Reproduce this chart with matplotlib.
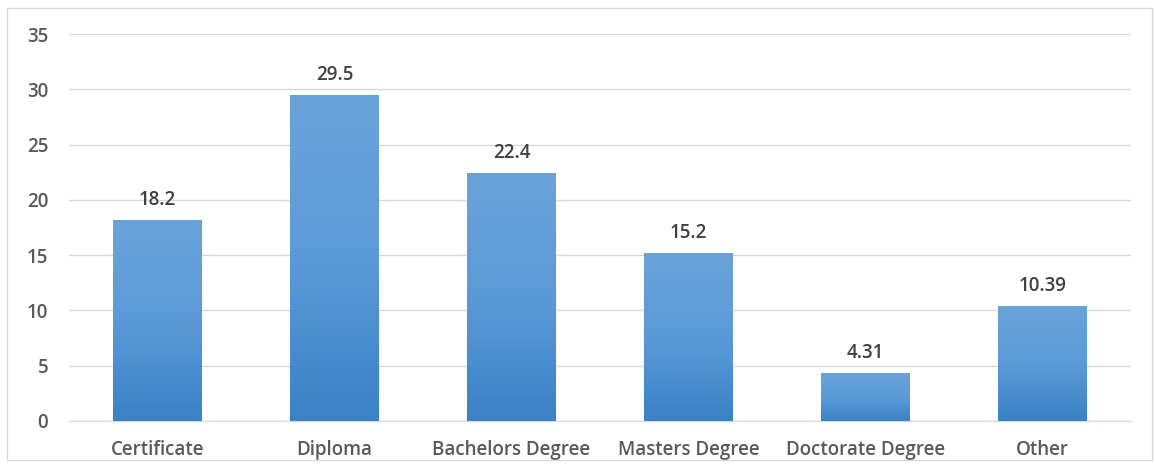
import matplotlib
matplotlib.use("Agg")
import matplotlib.pyplot as plt
import numpy as np
from matplotlib.colors import LinearSegmentedColormap
from matplotlib.patches import Rectangle

categories = ["Certificate", "Diploma", "Bachelors Degree", "Masters Degree",
              "Doctorate Degree", "Other"]
values = [18.2, 29.5, 22.4, 15.2, 4.31, 10.39]
value_labels = ["18.2", "29.5", "22.4", "15.2", "4.31", "10.39"]
yticks = [0, 5, 10, 15, 20, 25, 30, 35]

plt.rcParams["font.family"] = ["Open Sans", "DejaVu Sans"]

fig = plt.figure(figsize=(11.55, 4.67), dpi=100)
fig.patch.set_facecolor("white")
# thin frame around the whole chart
fig.patches.append(Rectangle((7 / 1155, 7 / 467), 1145 / 1155, 452 / 467,
                             transform=fig.transFigure, fill=False,
                             edgecolor="#d9d9d9", linewidth=1.0))

ax = fig.add_axes([69 / 1155, (467 - 421) / 467, 1062 / 1155, (421 - 34) / 467])

x = np.arange(len(categories))
bars = ax.bar(x, values, width=0.5, color="#4a8fd2", zorder=2, linewidth=0)

# vertical gradient fill for each bar: lighter at the top, deeper at the base
cmap = LinearSegmentedColormap.from_list("barfill", ["#3a82c6", "#5b9ad8", "#6aa3da"])
grad = np.linspace(0, 1, 256).reshape(-1, 1)
for b in bars:
    x0, w, h = b.get_x(), b.get_width(), b.get_height()
    im = ax.imshow(grad, cmap=cmap, origin="lower", aspect="auto",
                   extent=(x0, x0 + w, 0, h), zorder=3, interpolation="bilinear")
    im.set_clip_path(b)

ax.set_xlim(-0.5, len(categories) - 0.5)
ax.set_ylim(0, 35)

for xi, v, lab in zip(x, values, value_labels):
    ax.text(xi, v + 1.35, lab, ha="center", va="baseline", fontsize=13.5,
            color="#404040", fontweight="semibold", zorder=4)

ax.set_yticks(yticks)
ax.set_yticklabels([str(t) for t in yticks])
ax.set_xticks(x)
ax.set_xticklabels(categories)
ax.yaxis.grid(True, color="#d9d9d9", linewidth=1.0, zorder=0)
ax.set_axisbelow(True)
for s in ["top", "right", "left"]:
    ax.spines[s].set_visible(False)
ax.spines["bottom"].set_color("#d9d9d9")
ax.tick_params(axis="both", length=0, labelsize=13.5, labelcolor="#595959")
ax.tick_params(axis="y", pad=15)
ax.tick_params(axis="x", pad=14)
for lbl in ax.get_xticklabels() + ax.get_yticklabels():
    lbl.set_fontweight("semibold")

fig.savefig("out.png", dpi=100, facecolor="white")
